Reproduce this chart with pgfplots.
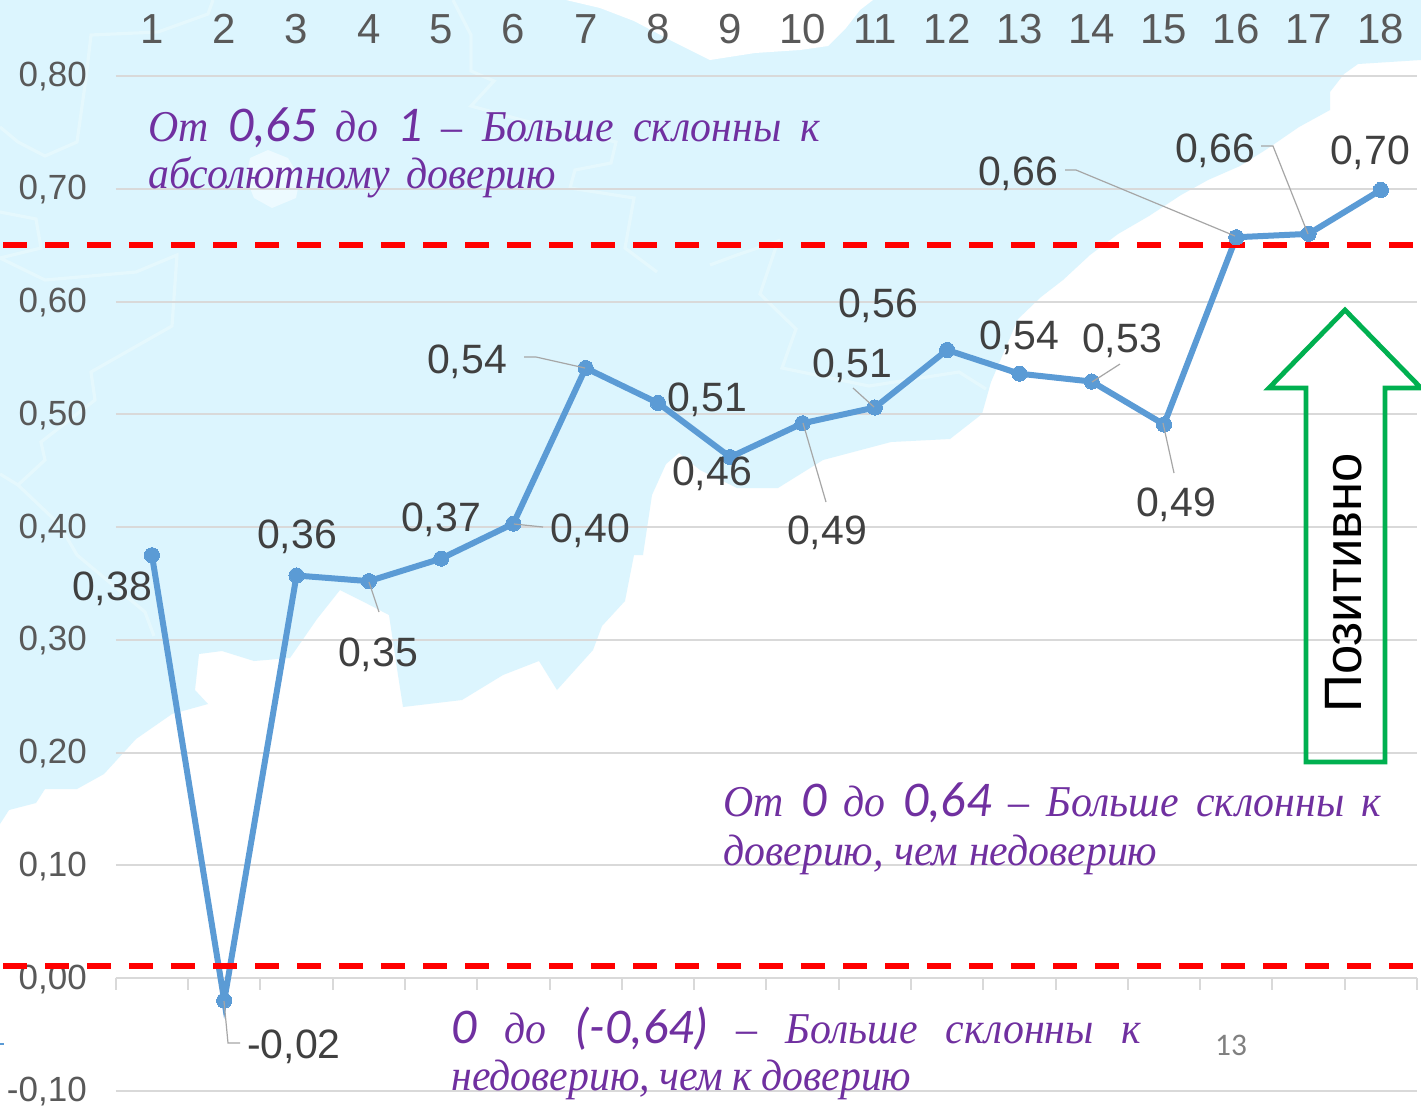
\documentclass[border=0pt]{standalone}
\usepackage{fontspec}
\usepackage{pgfplots}
\pgfplotsset{compat=1.18}
\setmainfont{Liberation Sans}
\newfontfamily\purfont[FakeStretch=0.95]{Liberation Serif}
\newfontfamily\numfont{Carlito}

\definecolor{seablue}{HTML}{DCF5FE}
\definecolor{borderblue}{HTML}{E5F8FD}
\definecolor{gridgrey}{HTML}{D9D9D9}
\definecolor{ticktext}{HTML}{595959}
\definecolor{labeltext}{HTML}{404040}
\definecolor{leader}{HTML}{A6A6A6}
\definecolor{series}{HTML}{5B9BD5}
\definecolor{purp}{HTML}{7030A0}
\definecolor{arrowgreen}{HTML}{00B050}

% 1 px of the reference = 0.5pt
\pgfplotsset{pxaxis/.style={
    scale only axis, width=710.5pt, height=555pt,
    xmin=0, xmax=1421, ymin=0, ymax=1110, y dir=reverse,
    hide axis, clip=false}}

\newcommand{\lab}[3]{\node[anchor=base, inner sep=0pt, text=labeltext, yshift=-7.25pt,
    font=\fontsize{20.5}{24}\selectfont] at (axis cs:#1,#2) {#3};}
\newcommand{\pur}{\color{purp}\purfont\itshape\fontsize{22}{25}\selectfont}
\newcommand{\bign}[1]{{\numfont\itshape\fontsize{25}{25}\selectfont #1}}

\begin{document}
\begin{tikzpicture}
\useasboundingbox (0,0) rectangle (710.5pt,555pt);

% background map
\begin{axis}[pxaxis, at={(0pt,0pt)}, anchor=south west]
\addplot[fill=white, draw=none] coordinates {(0,0) (1421,0) (1421,1110) (0,1110)} --cycle;
\addplot[fill=seablue, draw=none] coordinates {
  (0,0) (1421,0) (1421,60) (1358,64) (1344,74) (1330,92) (1330,110) (1299,127) (1267,149)
  (1240,166) (1208,180) (1181,195) (1149,216) (1118,234) (1090,255) (1063,280) (1041,297)
  (1018,319) (1000,361) (991,382) (982,414) (950,439) (891,442) (823,460) (778,488) (737,488)
  (700,470) (679,453) (666,464) (652,495) (643,555) (634,555) (625,601) (602,626) (593,650)
  (557,690) (539,661) (503,675) (462,700) (403,707) (398,675) (389,615) (362,601) (340,590)
  (317,619) (290,658) (254,661) (222,651) (199,654) (195,690) (208,704) (172,714) (136,739)
  (104,774) (77,789) (45,789) (36,803) (9,810) (0,824)} --cycle;
\addplot[fill=white, draw=none] coordinates {
  (566,0) (600,8) (634,21) (670,40) (710,60) (755,53) (800,50) (828,46) (846,28) (860,10) (873,0)} --cycle;
\addplot[fill=white!50!seablue, draw=none] coordinates {
  (250,158) (268,150) (288,158) (300,178) (296,198) (272,208) (254,198) (246,178)} --cycle;
\addplot[draw=borderblue, line width=1.6pt] coordinates {
  (213,0) (208,14) (158,32) (91,35) (86,78) (77,142) (45,156) (18,142) (0,127)};
\addplot[draw=borderblue, line width=1.6pt] coordinates {
  (0,212) (36,219) (41,248) (0,258) (45,280) (136,272) (177,255) (172,326) (91,372) (95,400)
  (41,442) (45,460) (18,485) (0,474)};
\addplot[draw=borderblue, line width=1.6pt] coordinates {
  (18,485) (59,524) (77,555) (145,612) (154,636)};
\addplot[draw=borderblue, line width=1.6pt] coordinates {
  (453,0) (471,35) (471,71) (494,81) (471,106) (540,125) (616,142) (611,163) (575,170) (570,188)
  (634,198) (625,248) (657,272)};
\addplot[draw=borderblue, line width=1.6pt] coordinates {
  (710,265) (737,255) (778,241) (760,294) (796,329) (782,368) (869,386) (959,372) (986,389)};
\end{axis}

% the chart
\begin{axis}[
    at={(57.9pt,9.6pt)}, anchor=south west,
    scale only axis, width=650.6pt, height=507.4pt,
    xmin=0.5, xmax=18.5, ymin=-0.1, ymax=0.8,
    clip=false,
    axis line style={draw=none},
    tick style={draw=none},
    xtick={1,2,...,18},
    xticklabel pos=upper,
    ytick={-0.1,0,0.1,0.2,0.3,0.4,0.5,0.6,0.7,0.8},
    ymajorgrids,
    grid style={gridgrey, line width=1pt},
    xticklabel style={text=ticktext, font=\fontsize{21}{24}\selectfont, yshift=12.5pt,
      /pgf/number format/assume math mode=true},
    yticklabel style={text=ticktext, font=\fontsize{17.5}{20}\selectfont, xshift=-11pt, yshift=-0.5pt,
      /pgf/number format/.cd, fixed, fixed zerofill, precision=2, use comma, assume math mode=true},
    unbounded coords=jump,
  ]
\addplot[gridgrey, line width=1pt, forget plot] coordinates {(0.5,0) (18.5,0)};
\addplot[gridgrey, line width=1pt, forget plot] coordinates {
  (0.5,0) (0.5,-0.011) (1,nan) (1.5,0) (1.5,-0.011) (2,nan) (2.5,0) (2.5,-0.011) (3,nan)
  (3.5,0) (3.5,-0.011) (4,nan) (4.5,0) (4.5,-0.011) (5,nan) (5.5,0) (5.5,-0.011) (6,nan)
  (6.5,0) (6.5,-0.011) (7,nan) (7.5,0) (7.5,-0.011) (8,nan) (8.5,0) (8.5,-0.011) (9,nan)
  (9.5,0) (9.5,-0.011) (10,nan) (10.5,0) (10.5,-0.011) (11,nan) (11.5,0) (11.5,-0.011) (12,nan)
  (12.5,0) (12.5,-0.011) (13,nan) (13.5,0) (13.5,-0.011) (14,nan) (14.5,0) (14.5,-0.011) (15,nan)
  (15.5,0) (15.5,-0.011) (16,nan) (16.5,0) (16.5,-0.011) (17,nan) (17.5,0) (17.5,-0.011) (18,nan)
  (18.5,0) (18.5,-0.011)};
\addplot[series, line width=3pt, mark=*, mark size=3.8pt, mark options={fill=series, draw=series, line width=0pt}] coordinates {
  (1,0.375) (2,-0.020) (3,0.357) (4,0.352) (5,0.372) (6,0.403) (7,0.541) (8,0.510) (9,0.462)
  (10,0.492) (11,0.506) (12,0.557) (13,0.536) (14,0.529) (15,0.491) (16,0.657) (17,0.660) (18,0.699)};
\addplot[red, line width=3pt, dash pattern=on 12pt off 9pt] coordinates {(-1.06,0.650) (18.55,0.650)};
\addplot[red, line width=3pt, dash pattern=on 12pt off 9pt] coordinates {(-1.06,0.0106) (18.55,0.0106)};
\end{axis}

% annotations, in reference pixels
\begin{axis}[pxaxis, at={(0pt,0pt)}, anchor=south west]
\draw[leader, line width=0.6pt] (axis cs:524,357) -- (axis cs:536,357) -- (axis cs:585,368);
\draw[leader, line width=0.6pt] (axis cs:514,524) -- (axis cs:543,527);
\draw[leader, line width=0.6pt] (axis cs:369,582) -- (axis cs:379,612);
\draw[leader, line width=0.6pt] (axis cs:224,1001) -- (axis cs:228,1043) -- (axis cs:240,1043);
\draw[leader, line width=0.6pt] (axis cs:803,423) -- (axis cs:826,502);
\draw[leader, line width=0.6pt] (axis cs:853,388) -- (axis cs:874,407);
\draw[leader, line width=0.6pt] (axis cs:1120,364) -- (axis cs:1092,382);
\draw[leader, line width=0.6pt] (axis cs:1163,423) -- (axis cs:1174,473);
\draw[leader, line width=0.6pt] (axis cs:1065,170) -- (axis cs:1076,170) -- (axis cs:1235,236);
\draw[leader, line width=0.6pt] (axis cs:1261,146) -- (axis cs:1273,146) -- (axis cs:1308,234);

\lab{112}{586}{0,38}
\lab{297}{534}{0,36}
\lab{378}{652}{0,35}
\lab{441}{517}{0,37}
\lab{590}{528}{0,40}
\lab{467}{359}{0,54}
\lab{707}{397}{0,51}
\lab{712}{471}{0,46}
\lab{827}{530}{0,49}
\lab{852}{363}{0,51}
\lab{878}{303}{0,56}
\lab{1019}{335}{0,54}
\lab{1122}{338}{0,53}
\lab{1176}{502}{0,49}
\lab{1018}{171}{0,66}
\lab{1215}{148}{0,66}
\lab{1370}{150}{0,70}
\lab{294}{1044}{-0,02}

\node[anchor=base west, inner sep=0pt] at (axis cs:148,141)
  {\hbox to 336pt{\pur От\hfil\bign{0,65}\hfil до\hfil\bign{1}\hfil –\hfil Больше\hfil склонны\hfil к}};
\node[anchor=base west, inner sep=0pt] at (axis cs:148,188)
  {\hbox to 204pt{\pur абсолютному\hfil доверию}};
\node[anchor=base west, inner sep=0pt] at (axis cs:723,816)
  {\hbox to 329pt{\pur От\hfil\bign{0}\hfil до\hfil\bign{0,64}\hfil –\hfil Больше\hfil склонны\hfil к}};
\node[anchor=base west, inner sep=0pt] at (axis cs:723,865)
  {\hbox to 217pt{\pur доверию,\hfil чем\hfil недоверию}};
\node[anchor=base west, inner sep=0pt] at (axis cs:451,1043)
  {\hbox to 345pt{\pur\bign{0}\hfil до\hfil\bign{(-0,64)}\hfil –\hfil Больше\hfil склонны\hfil к}};
\node[anchor=base west, inner sep=0pt] at (axis cs:451,1090)
  {\hbox to 230pt{\pur недоверию,\hfil чем\hfil к\hfil доверию}};

\node[text=gray, font=\numfont\fontsize{15.7}{18}\selectfont, inner sep=0pt] at (axis cs:1231,1045) {13};
\draw[series, line width=1pt] (axis cs:0,1044) -- (axis cs:4,1044);

\draw[arrowgreen, line width=2.4pt, miter limit=4] (axis cs:1345,310) -- (axis cs:1269,388)
  -- (axis cs:1306,388) -- (axis cs:1306,762) -- (axis cs:1385,762) -- (axis cs:1385,388)
  -- (axis cs:1421,388) -- cycle;
\node[rotate=90, anchor=base west, inner sep=0pt, font=\fontsize{26.3}{30}\selectfont]
  at (axis cs:1361,713) {Позитивно};
\end{axis}
\end{tikzpicture}
\end{document}
